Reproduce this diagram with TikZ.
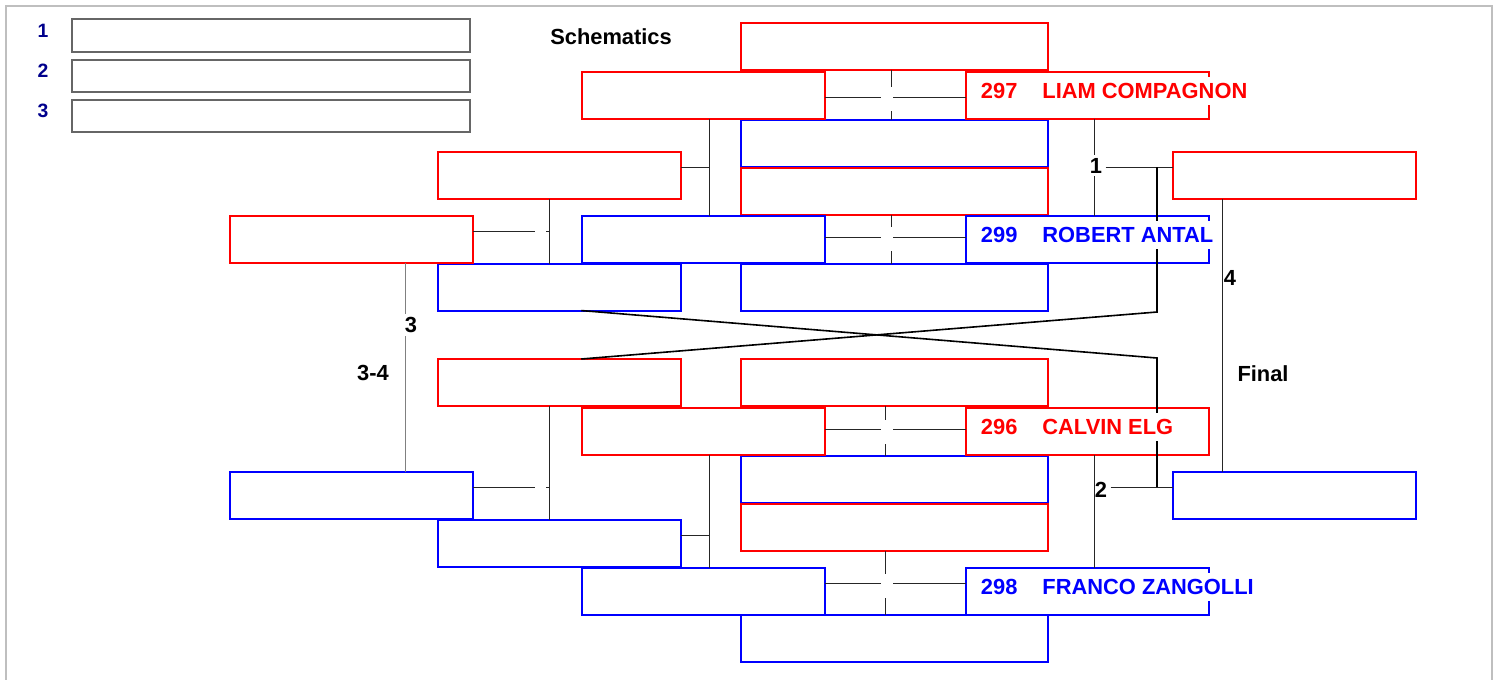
\documentclass[tikz,border=0pt]{standalone}
\usepackage{fontspec}
\setmainfont{Liberation Sans}
\usepackage{xcolor}
\definecolor{navyblue}{RGB}{0,0,140}

\begin{document}
\begin{tikzpicture}[x=0.75pt,y=-0.75pt,
    every node/.style={font=\fontsize{16.4}{19}\selectfont\bfseries},
    slot/.style={draw, line width=1.5pt, inner sep=0pt, outer sep=0pt, minimum height=34.9pt, anchor=north west},
    short/.style={slot, minimum width=181.9pt},
    long/.style={slot, minimum width=230.25pt},
    legendbox/.style={draw=black!60, line width=1.5pt, inner sep=0pt, minimum width=299pt, minimum height=24.3pt, anchor=north west},
    legendnum/.style={text=navyblue, font=\fontsize{14.5}{17}\selectfont\bfseries},
    wire/.style={black!85, line width=0.75pt},
    loser/.style={black, line width=1.2pt},
    lbl/.style={text=black, inner sep=2.5pt},
    nametag/.style={anchor=west, fill=white, inner xsep=2pt, inner ysep=4.6pt, text height=11.7pt, text depth=0pt, xshift=9pt, yshift=3.5pt},
    gapmark/.style={fill=white, inner sep=0pt, minimum width=9.5pt, minimum height=18pt},
    notch/.style={fill=white, inner sep=0pt, minimum width=8.25pt, minimum height=4pt}]
\useasboundingbox (0,0) rectangle (1499,679);
% page frame
\draw[black!25, line width=1.5pt] (6,700) -- (6,6) -- (1492,6) -- (1492,700);

% legend
\node[legendbox] (g1) at (70.7,18.3) {};
\node[legendbox] (g2) at (70.7,58.7) {};
\node[legendbox] (g3) at (70.7,98.7) {};
\node[legendnum] (n1) at (43,31) {1};
\node[legendnum] (n2) at (43,70.5) {2};
\node[legendnum] (n3) at (43,110.5) {3};
\node[text=black, anchor=west, inner sep=0pt] (title) at (550,37) {Schematics};

% column A
\node[long, draw=red]  (a1) at (741,23) {};
\node[long, draw=blue] (a2) at (741,120) {};
\node[long, draw=red]  (a3) at (741,168) {};
\node[long, draw=blue] (a4) at (741,264) {};
\node[long, draw=red]  (a5) at (741,359) {};
\node[long, draw=blue] (a6) at (741,456) {};
\node[long, draw=red]  (a7) at (741,504) {};
\node[long, draw=blue] (a8) at (741,615) {};
% column B
\node[short, draw=red]  (b1) at (582,72) {};
\node[short, draw=blue] (b2) at (582,216) {};
\node[short, draw=red]  (b3) at (582,408) {};
\node[short, draw=blue] (b4) at (582,568) {};
% column C
\node[short, draw=red]  (c1) at (438,152) {};
\node[short, draw=blue] (c2) at (438,264) {};
\node[short, draw=red]  (c3) at (438,359) {};
\node[short, draw=blue] (c4) at (438,520) {};
% column D
\node[short, draw=red]  (d1) at (230,216) {};
\node[short, draw=blue] (d2) at (230,472) {};
% column E
\node[short, draw=red]  (e1) at (966,72) {};
\node[short, draw=blue] (e2) at (966,216) {};
\node[short, draw=red]  (e3) at (966,408) {};
\node[short, draw=blue] (e4) at (966,568) {};
% column F
\node[short, draw=red]  (f1) at (1173,152) {};
\node[short, draw=blue] (f2) at (1173,472) {};

% junctions
\coordinate (ja1) at (891.5,97);
\coordinate (ja2) at (891.5,237.5);
\coordinate (ja3) at (885,429.5);
\coordinate (ja4) at (885,583.3);
\coordinate (jb1) at (709,167);
\coordinate (jb2) at (709,535);
\coordinate (jc1) at (549,231);
\coordinate (jc2) at (549,487);
\coordinate (js1) at (1094,167);
\coordinate (js2) at (1094,487);
\coordinate (jf) at (1222.5,0);
\coordinate (j34) at (405.7,0);

% centre crossings
\draw[wire] (a1.south -| ja1) -- (a2.north -| ja1);
\draw[wire] (b1.east |- ja1) -- (e1.west |- ja1);
\draw[wire] (a3.south -| ja2) -- (a4.north -| ja2);
\draw[wire] (b2.east |- ja2) -- (e2.west |- ja2);
\draw[wire] (a5.south -| ja3) -- (a6.north -| ja3);
\draw[wire] (b3.east |- ja3) -- (e3.west |- ja3);
\draw[wire] (a7.south -| ja4) -- (a8.north -| ja4);
\draw[wire] (b4.east |- ja4) -- (e4.west |- ja4);
\node[gapmark] (x1) at (887,99) {};
\node[gapmark] (x2) at (887,239) {};
\node[gapmark] (x3) at (887,432) {};
\node[gapmark] (x4) at (887,586) {};

% B and C joins
\draw[wire] (b1.south -| jb1) -- (b2.north -| jb1);
\draw[wire] (c1.east |- jb1) -- (jb1);
\draw[wire] (b3.south -| jb2) -- (b4.north -| jb2);
\draw[wire] (c4.east |- jb2) -- (jb2);
\draw[wire] (c1.south -| jc1) -- (c2.north -| jc1);
\draw[wire] (d1.east |- jc1) -- (jc1);
\draw[wire] (c3.south -| jc2) -- (c4.north -| jc2);
\draw[wire] (d2.east |- jc2) -- (jc2);
\node[notch] (y1) at (540.5,231) {};
\node[notch] (y2) at (540.5,487) {};

% bronze
\draw[black!50, line width=0.75pt] (d1.south -| j34) -- (d2.north -| j34);
\node[lbl, fill=white] (s3) at (411,325) {3};
\node[lbl] (s34) at (373,373) {3-4};

% semifinals
\draw[wire] (e1.south -| js1) -- (e2.north -| js1);
\node[lbl, fill=white] (s1) at (1096,165.5) {1};
\draw[wire] (s1.east |- js1) -- (f1.west |- js1);
\draw[wire] (e3.south -| js2) -- (e4.north -| js2);
\node[lbl] (s2) at (1101,490) {2};
\draw[wire] (s2.east |- js2) -- (f2.west |- js2);

% losers crossing over
\coordinate (q1) at (1157,167);
\coordinate (k1) at (1157,312);
\coordinate (k2) at (1157,358);
\coordinate (q2) at (1157,487);
\draw[loser] (q1) -- (k1) -- ([xshift=16.5pt]c3.north);
\draw[loser] ([xshift=16.5pt]c2.south) -- (k2) -- (q2);

% final
\draw[wire] (f1.south -| jf) -- (f2.north -| jf);
\node[lbl, anchor=west, inner sep=0pt] (s4) at (1223.5,278) {4};
\node[lbl] (fin) at (1263,373.5) {Final};

% names
\node[nametag, text=red]  (t1) at (e1.west) {297\hspace{18.75pt}LIAM COMPAGNON};
\node[nametag, text=blue] (t2) at (e2.west) {299\hspace{18.75pt}ROBERT ANTAL};
\node[nametag, text=red]  (t3) at (e3.west) {296\hspace{18.75pt}CALVIN ELG};
\node[nametag, text=blue] (t4) at (e4.west) {298\hspace{18.75pt}FRANCO ZANGOLLI};
\end{tikzpicture}
\end{document}
